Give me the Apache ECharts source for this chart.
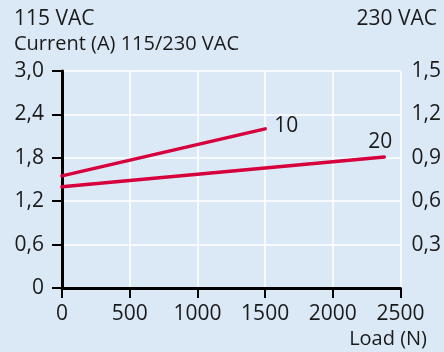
<!DOCTYPE html>
<html>
<head>
<meta charset="utf-8">
<script src="https://cdn.jsdelivr.net/npm/echarts@6/dist/echarts.min.js"></script>
<style>
  html, body { margin: 0; padding: 0; background: #dbe9f6; }
  #chart { width: 444px; height: 352px; }
</style>
</head>
<body>
<div id="chart"></div>
<script>
// Load values along the x axis (N)
const loadTicks = [0, 500, 1000, 1500, 2000, 2500];
// Current at 115 VAC (left scale) and 230 VAC (right scale)
const leftTicks = ['0', '0,6', '1,2', '1,8', '2,4', '3,0'];
const rightTicks = ['', '0,3', '0,6', '0,9', '1,2', '1,5'];

// Curve "10": load (N) and current (A)
const load10 = [0, 1500];
const current10 = [1.55, 2.20];
// Curve "20"
const load20 = [0, 2380];
const current20 = [1.40, 1.81];

const RED = '#d6003c';
const FONT = 'Open Sans';
const FS = 21;

function pairs(xs, ys) { return xs.map((x, i) => [x, ys[i]]); }
function font(size) { return size + 'px "' + FONT + '"'; }

const chart = echarts.init(document.getElementById('chart'), null, { renderer: 'canvas' });

chart.setOption({
  backgroundColor: '#dbe9f6',
  animation: false,
  textStyle: { fontFamily: FONT, color: '#1a1a1a' },
  grid: { left: 62, right: 42, top: 71, bottom: 64 },
  xAxis: {
    type: 'value',
    min: loadTicks[0], max: loadTicks[loadTicks.length - 1], interval: 500,
    axisLine: { lineStyle: { color: '#000', width: 3 } },
    axisTick: { length: 10, lineStyle: { color: '#000', width: 2 } },
    axisLabel: { margin: 16, fontSize: FS, fontFamily: FONT, color: '#1a1a1a',
      formatter: v => String(loadTicks[loadTicks.indexOf(v)] ?? v) },
    splitLine: { show: true, lineStyle: { color: '#ffffff', width: 1.5 } }
  },
  yAxis: [
    {
      type: 'value', min: 0, max: 3, interval: 0.6,
      axisLine: { show: true, lineStyle: { color: '#000', width: 3 } },
      axisTick: { show: true, length: 10, lineStyle: { color: '#000', width: 2 } },
      axisLabel: { margin: 18, fontSize: FS, fontFamily: FONT, color: '#1a1a1a',
        formatter: v => leftTicks[Math.round(v / 0.6)] },
      splitLine: { show: true, lineStyle: { color: '#ffffff', width: 1.5 } }
    },
    {
      type: 'value', min: 0, max: 1.5, interval: 0.3, position: 'right',
      axisLine: { show: false }, axisTick: { show: false },
      axisLabel: { margin: 11, fontSize: FS, fontFamily: FONT, color: '#1a1a1a',
        formatter: v => rightTicks[Math.round(v / 0.3)] },
      splitLine: { show: false }
    }
  ],
  series: [
    {
      name: '10', type: 'line', yAxisIndex: 0, symbol: 'none',
      data: pairs(load10, current10),
      lineStyle: { color: RED, width: 3.5, cap: 'round' },
      endLabel: { show: true, formatter: '{a}', distance: 9, offset: [0, -3],
        fontSize: FS, fontFamily: FONT, color: '#1a1a1a' }
    },
    {
      name: '20', type: 'line', yAxisIndex: 0, symbol: 'none',
      data: pairs(load20, current20),
      lineStyle: { color: RED, width: 3.5, cap: 'round' },
      endLabel: { show: true, formatter: '{a}', distance: 0, offset: [-16, -15],
        fontSize: FS, fontFamily: FONT, color: '#1a1a1a' }
    }
  ],
  graphic: [
    { type: 'text', left: 14, top: 9, style: { text: '115 VAC', font: font(21), fill: '#1a1a1a' } },
    { type: 'text', right: 7, top: 9, style: { text: '230 VAC', font: font(21), fill: '#1a1a1a' } },
    { type: 'text', left: 14, top: 34, style: { text: 'Current (A) 115/230 VAC', font: font(20), fill: '#1a1a1a' } },
    { type: 'text', right: 17, top: 329, style: { text: 'Load (N)', font: font(20), fill: '#1a1a1a' } }
  ]
});
</script>
</body>
</html>
